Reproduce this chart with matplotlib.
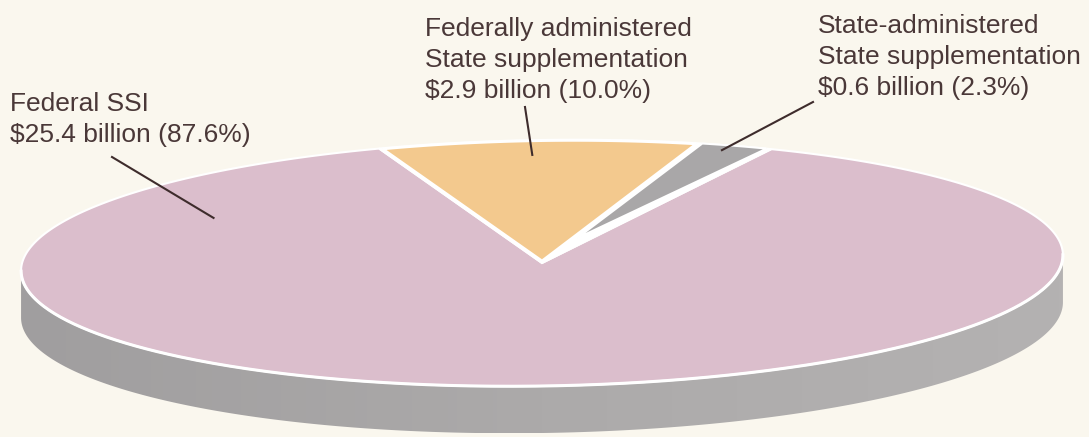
import numpy as np
import matplotlib.pyplot as plt
from matplotlib.patches import Polygon
from matplotlib.colors import LinearSegmentedColormap

# data
labels = ["Federally administered\nState supplementation\n$2.9 billion (10.0%)",
          "State-administered\nState supplementation\n$0.6 billion (2.3%)",
          "Federal SSI\n$25.4 billion (87.6%)"]
shares = [10.0, 2.3, 87.6]
colors = ["#f3c98e", "#a9a7a8", "#dbbecc"]

# pie geometry (pixels)
cx, cy = 542, 263
a, b = 521, 123
phi = np.radians(0.9)
depth = 47
start = 108.0

def ell(t_deg, r=1.0):
    t = np.radians(t_deg)
    u = a * r * np.cos(t)
    v = b * r * np.sin(t)
    X = u * np.cos(phi) - v * np.sin(phi)
    Y = u * np.sin(phi) + v * np.cos(phi)
    return cx + X, cy - Y

fig = plt.figure(figsize=(10.89, 4.37), dpi=100, facecolor="#faf7ee")
ax = fig.add_axes([0, 0, 1, 1])
ax.set_xlim(0, 1089)
ax.set_ylim(437, 0)
ax.axis('off')

# side of the disc
ts = np.linspace(180, 360, 300)
tx, ty = ell(ts)
side = np.column_stack([np.r_[tx, tx[::-1]], np.r_[ty, ty[::-1] + depth]])
side_poly = Polygon(side, closed=True, facecolor="none", edgecolor="none", zorder=1)
ax.add_patch(side_poly)
grad = np.linspace(0, 1, 256).reshape(1, -1)
side_cmap = LinearSegmentedColormap.from_list("side", ["#a09e9f", "#acaaaa", "#b4b2b2"])
im = ax.imshow(grad, cmap=side_cmap, extent=(tx.min(), tx.max(), ty.max() + depth, ty.min()),
               aspect='auto', zorder=1)
im.set_clip_path(side_poly)

# wedge edges
total = sum(shares)
edges = [start]
for s in shares:
    edges.append(edges[-1] - 360.0 * s / total)

# pink (Federal SSI) sector
t_pink = np.linspace(edges[2], edges[3], 400)
px, py = ell(t_pink)
ax.add_patch(Polygon(np.column_stack([np.r_[cx, px], np.r_[cy, py]]), closed=True,
                     facecolor=colors[2], edgecolor="white", lw=1.5, zorder=2))
# front rim highlight
ax.plot(tx, ty, color="white", lw=2.2, zorder=2.5)

# cut-out sector behind the two supplementation wedges
t_cut = np.linspace(edges[0], edges[2], 100)
qx, qy = ell(t_cut)
ax.add_patch(Polygon(np.column_stack([np.r_[cx, qx], np.r_[cy, qy]]), closed=True,
                     facecolor="white", edgecolor="white", lw=1.5, zorder=2))

# orange wedge
t_or = np.linspace(edges[0] - 0.3, edges[1] + 0.5, 80)
ox, oy = ell(t_or, 0.995)
ax.add_patch(Polygon(np.column_stack([np.r_[cx, ox], np.r_[cy - 2, oy]]), closed=True,
                     facecolor=colors[0], edgecolor="white", lw=2.0, zorder=3))

# gray wedge, pulled out from the centre
gx0, gy0 = ell(edges[1] - 1.0, 0.21)
t_gr = np.linspace(edges[1] - 0.1, edges[2] + 0.6, 40)
gx, gy = ell(t_gr, 1.0)
ax.add_patch(Polygon(np.column_stack([np.r_[gx0, gx], np.r_[gy0, gy]]), closed=True,
                     facecolor=colors[1], edgecolor="white", lw=1.4, zorder=3))

# labels and leader lines
txt = dict(fontsize=19, family=["Liberation Sans", "DejaVu Sans"], color="#4a3838",
           va="top", ha="left", linespacing=1.38, zorder=5)
ax.text(425, 17, labels[0], **txt)
ax.text(818, 14, labels[1], **txt)
ax.text(10, 92, labels[2], **txt)

lc = dict(color="#3e2c2c", lw=1.5, zorder=4)
ex, ey = ell(91, 0.88)
ax.plot([525, ex], [107, ey], **lc)
ex, ey = ell(68.7, 0.96)
ax.plot([813, ex], [102, ey], **lc)
ex, ey = ell(147, 0.75)
ax.plot([112, ex], [157, ey], **lc)

plt.savefig('out.png', dpi=100, facecolor=fig.get_facecolor())
